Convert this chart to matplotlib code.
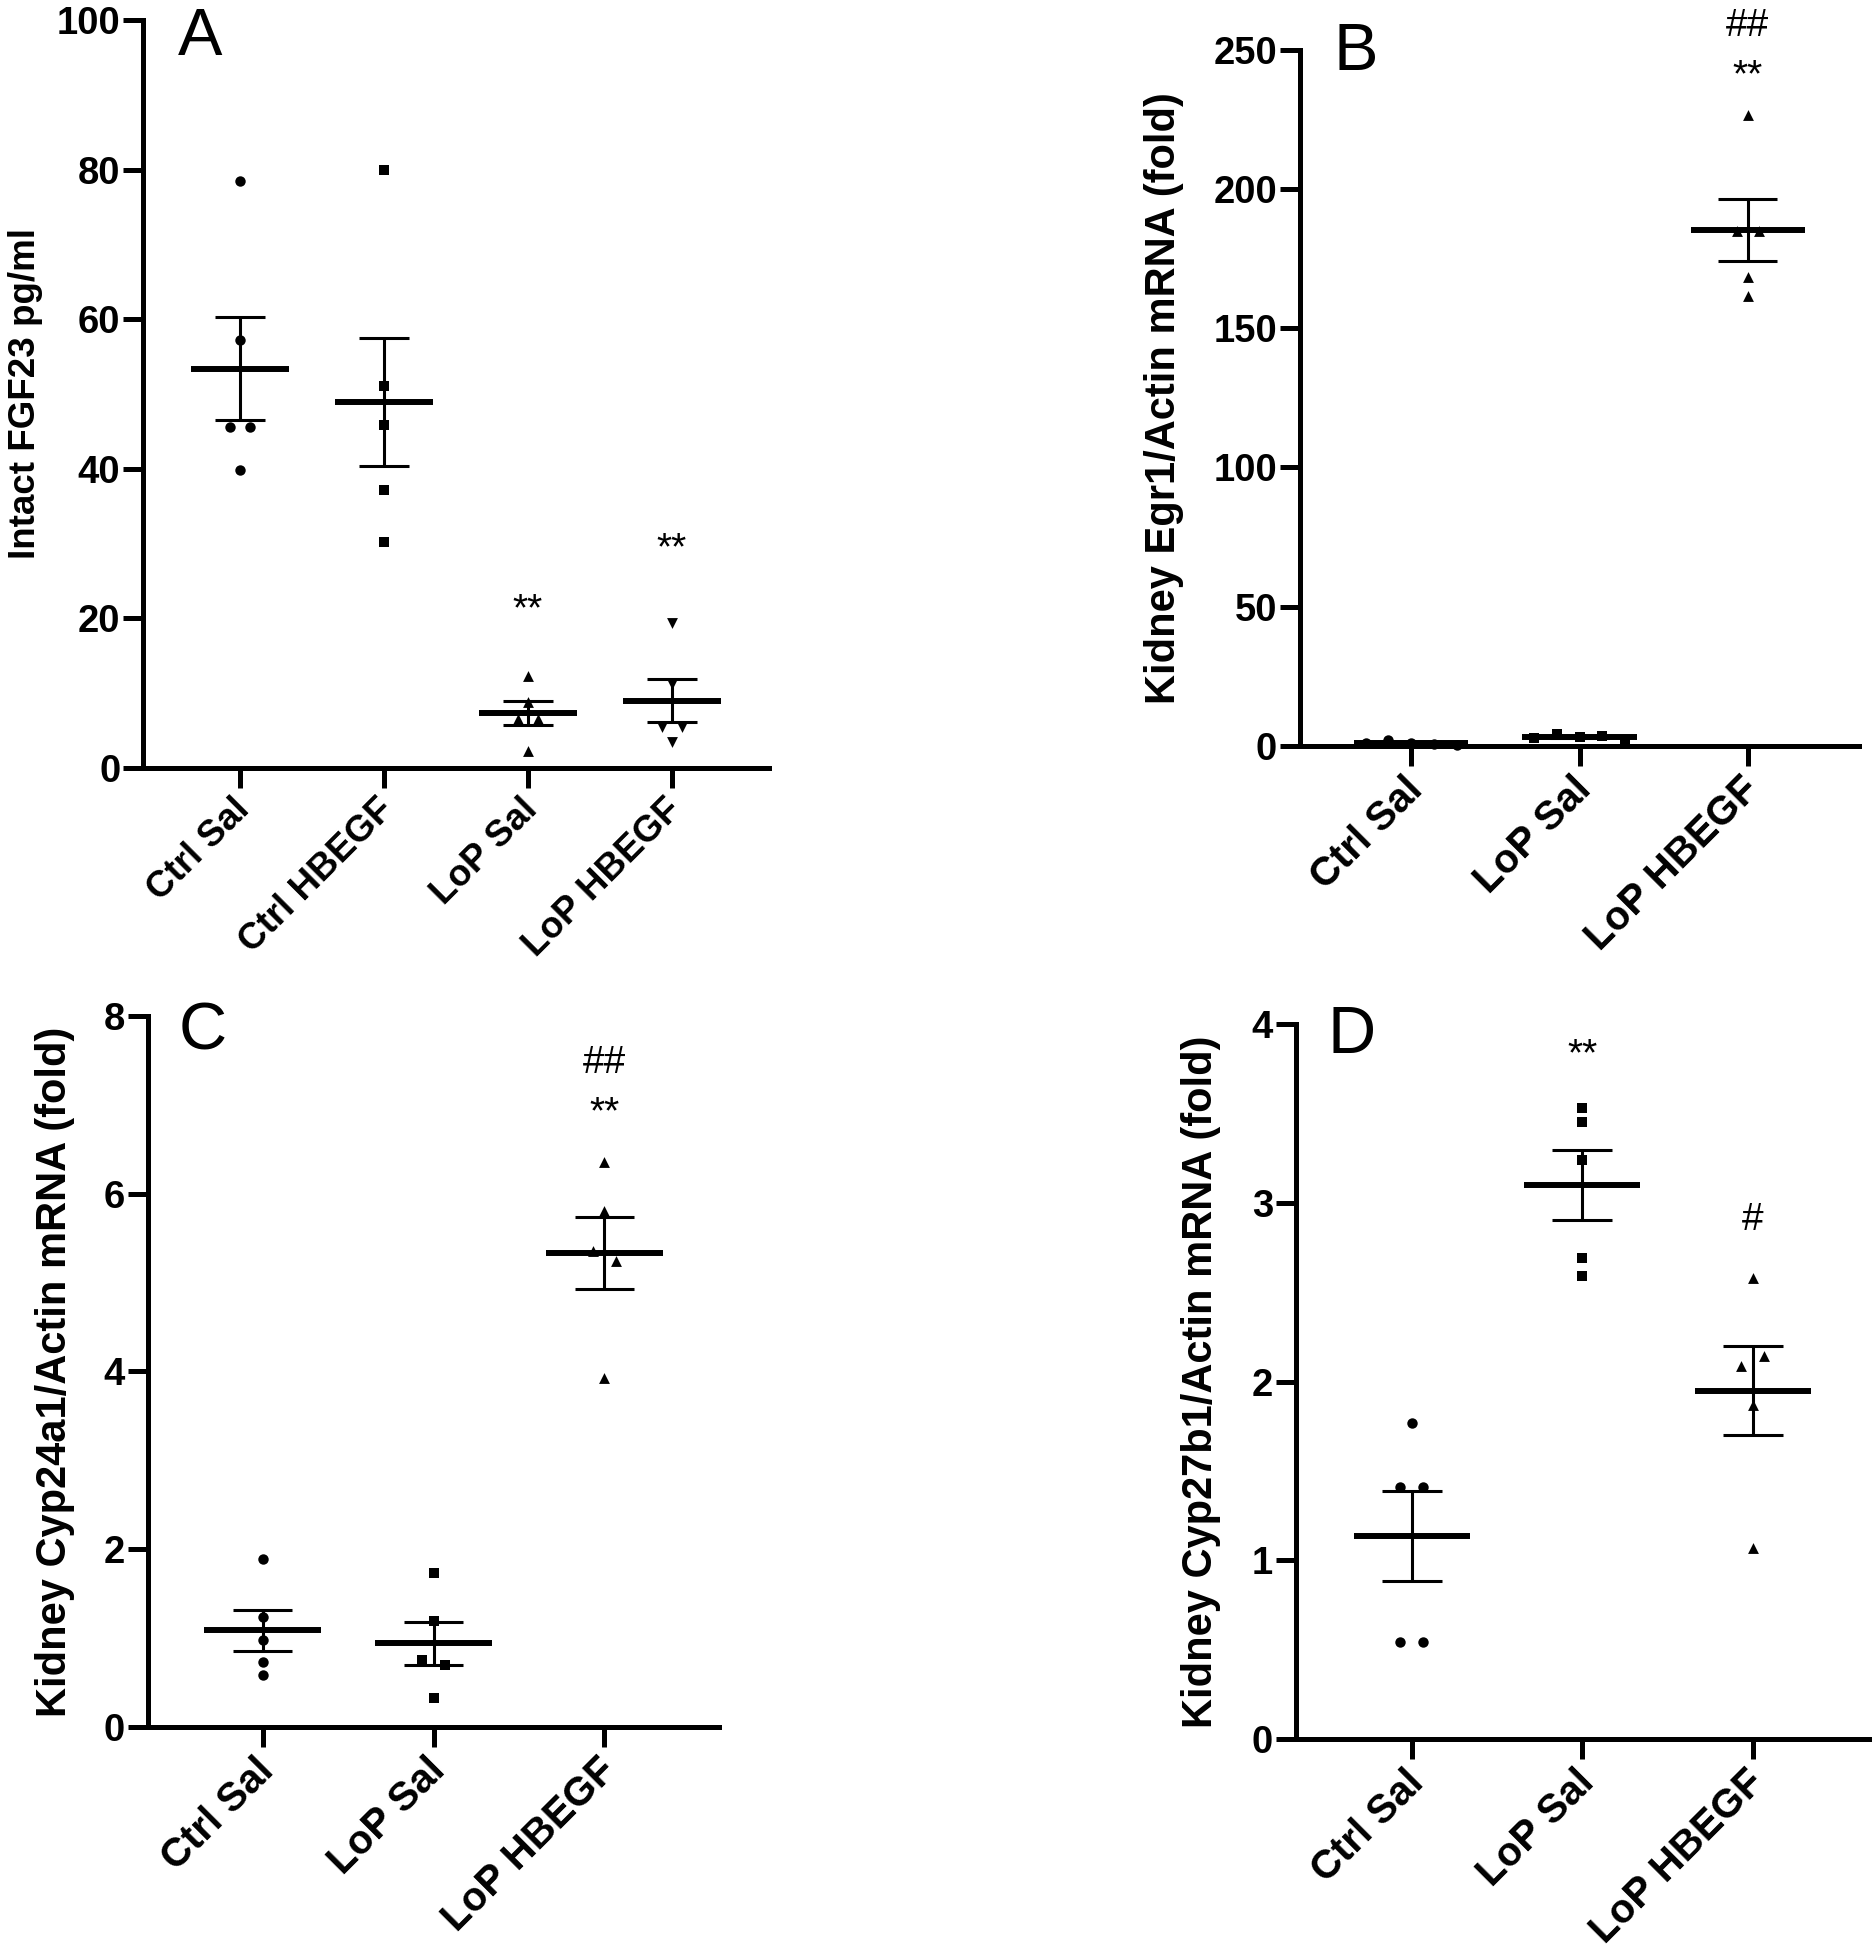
import matplotlib
matplotlib.use('Agg')
import matplotlib.pyplot as plt
import matplotlib.transforms as mtransforms
import numpy as np

plt.rcParams['font.family'] = ['Liberation Sans', 'DejaVu Sans']

W, H = 1872, 1950

# --- data ---
a_groups = ['Ctrl Sal', 'Ctrl HBEGF', 'LoP Sal', 'LoP HBEGF']
a_values = [
    [78.5, 57.2, 45.6, 45.6, 39.8],
    [80.0, 51.0, 45.9, 37.2, 30.2],
    [12.3, 8.8, 6.5, 6.5, 2.3],
    [19.4, 11.2, 5.4, 5.4, 3.5],
]
a_marks = [(2, '**', 19.75), (3, '**', 27.9)]

b_groups = ['Ctrl Sal', 'LoP Sal', 'LoP HBEGF']
b_values = [
    [1.0, 2.1, 1.0, 0.6, 0.3],
    [2.9, 4.3, 3.2, 3.4, 1.7],
    [226.6, 184.9, 184.9, 168.5, 161.7],
]
b_marks = [(2, '**', 237), (2, '##', 255)]

c_groups = ['Ctrl Sal', 'LoP Sal', 'LoP HBEGF']
c_values = [
    [1.89, 1.24, 0.98, 0.73, 0.58],
    [1.73, 1.19, 0.75, 0.70, 0.32],
    [6.36, 5.80, 5.35, 5.24, 3.92],
]
c_marks = [(2, '**', 6.79), (2, '##', 7.36)]

d_groups = ['Ctrl Sal', 'LoP Sal', 'LoP HBEGF']
d_values = [
    [1.77, 1.41, 1.41, 0.54, 0.54],
    [3.53, 3.45, 3.24, 2.69, 2.59],
    [2.58, 2.085, 2.14, 1.87, 1.07],
]
d_marks = [(1, '**', 3.77), (2, '#', 2.85)]

MARKER_SIZE = {'o': 7.5, 's': 7.8, '^': 7.8, 'v': 7.8}


def swarm_offsets(vals, span, thr=0.017, dx=0.135):
    """近い値の点を横に並べる（簡易ビースウォーム）"""
    vals = np.asarray(vals, float)
    order = np.argsort(vals, kind='stable')
    offs = np.zeros(len(vals))
    clusters = []
    cur = [order[0]]
    for a, b in zip(order[:-1], order[1:]):
        if (vals[b] - vals[a]) / span < thr:
            cur.append(b)
        else:
            clusters.append(cur)
            cur = [b]
    clusters.append(cur)
    for c in clusters:
        c = sorted(c)
        n = len(c)
        for k, idx in enumerate(c):
            offs[idx] = (k - (n - 1) / 2) * dx
    return offs


fig = plt.figure(figsize=(W / 100, H / 100), dpi=100)


def add_panel(left, top, right, bottom):
    return fig.add_axes([left / W, 1 - bottom / H, (right - left) / W, (bottom - top) / H])


def draw_panel(ax, groups, values, markers, ymax, ystep, xlim, ylabel,
               ylabel_size, ylabel_x, cat_size, marks, letter, letter_xy):
    ax.set_xlim(*xlim)
    ax.set_ylim(0, ymax)
    for i, vals in enumerate(values):
        v = np.asarray(vals, float)
        m = v.mean()
        se = v.std(ddof=1) / np.sqrt(len(v))
        ax.hlines(m, i - 0.34, i + 0.34, color='k', lw=4.3, zorder=2)
        ax.vlines(i, m - se, m + se, color='k', lw=2.2, zorder=2)
        ax.hlines([m - se, m + se], i - 0.175, i + 0.175, color='k', lw=2.2, zorder=2)
        offs = swarm_offsets(v, ymax)
        mk = markers[i]
        ax.scatter(i + offs, v, marker=mk, s=MARKER_SIZE[mk] ** 2, color='k',
                   linewidths=0, zorder=3, clip_on=False)

    for gi, txt, yv in marks:
        ax.text(gi, yv, txt, ha='center', va='baseline', fontsize=28,
                clip_on=False)

    for s in ['top', 'right']:
        ax.spines[s].set_visible(False)
    for s in ['left', 'bottom']:
        ax.spines[s].set_linewidth(3.6)

    yt = np.arange(0, ymax + ystep / 2, ystep)
    ax.set_yticks(yt)
    ax.set_yticklabels([f'{t:g}' for t in yt], fontsize=27.5, fontweight='bold')
    ax.set_xticks(range(len(groups)))
    ax.set_xticklabels(groups, rotation=45, ha='right', va='top',
                       rotation_mode='anchor', fontsize=cat_size, fontweight='bold')
    ax.tick_params(axis='both', width=3.6, length=14.5, direction='out')
    ax.tick_params(axis='y', pad=2)
    ax.tick_params(axis='x', pad=3)
    # 回転ラベルを少し左へずらす
    shift = mtransforms.ScaledTranslation(-8 / 100, 0, fig.dpi_scale_trans)
    for lab in ax.get_xticklabels():
        lab.set_transform(lab.get_transform() + shift)

    ax.set_ylabel(ylabel, fontsize=ylabel_size, fontweight='bold')
    ax.yaxis.set_label_coords(ylabel_x, 0.5)

    fig.text(letter_xy[0] / W, 1 - letter_xy[1] / H, letter, fontsize=48,
             ha='center', va='baseline')


axA = add_panel(143.3, 20, 769, 767.7)
draw_panel(axA, a_groups, a_values, ['o', 's', '^', 'v'], 100, 20, (-0.672, 3.674),
           'Intact FGF23 pg/ml', 26.5, -0.160, 26.5, a_marks, 'A', (200, 55))

axB = add_panel(1300, 50, 1859, 745.7)
draw_panel(axB, b_groups, b_values, ['o', 's', '^'], 250, 50, (-0.66, 2.66),
           'Kidney Egr1/Actin mRNA (fold)', 30, -0.2075, 29, b_marks, 'B', (1356, 70))

axC = add_panel(148, 1016, 719, 1726.7)
draw_panel(axC, c_groups, c_values, ['o', 's', '^'], 8, 2, (-0.67, 2.67),
           'Kidney Cyp24a1/Actin mRNA (fold)', 30, -0.128, 29, c_marks, 'C', (203, 1050))

axD = add_panel(1296, 1024, 1872, 1739)
draw_panel(axD, d_groups, d_values, ['o', 's', '^'], 4, 1, (-0.68, 2.7),
           'Kidney Cyp27b1/Actin mRNA (fold)', 30, -0.130, 29, d_marks, 'D', (1352, 1053))

fig.savefig('out.png', dpi=100)
